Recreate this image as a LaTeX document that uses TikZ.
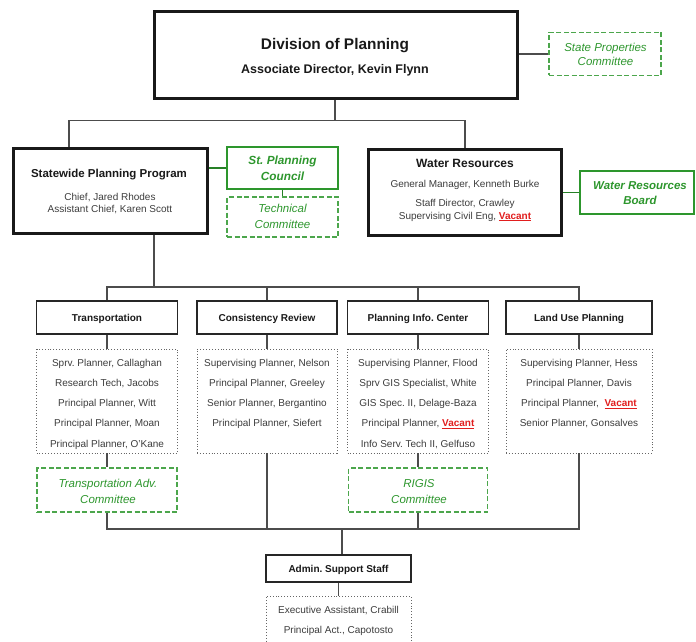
\documentclass[tikz,border=0pt]{standalone}
\usepackage{fontspec}
\setmainfont{Liberation Sans}
\frenchspacing
\definecolor{grn}{RGB}{45,150,45}
\definecolor{stafftxt}{RGB}{60,60,60}
\definecolor{vac}{RGB}{225,30,30}
\newcommand{\vacant}{{\color{vac}\bfseries\underline{Vacant}}}
\begin{document}
\begin{tikzpicture}[x=1pt,y=-1pt,
  bigbox/.style={draw=black!90, line width=3pt, inner sep=0pt},
  deptbox/.style={draw=black!85, line width=1.6pt, inner sep=0pt},
  staffbox/.style={draw=black!60, dotted, line width=0.9pt, inner sep=0pt},
  gsolid/.style={draw=grn, line width=1.3pt, inner sep=0pt},
  gdash/.style={draw=grn!85, line width=1.3pt, dash pattern=on 5pt off 2.5pt, inner sep=0pt},
  conn/.style={draw=black!70, line width=1.3pt},
  gconn/.style={draw=grn!85!black, line width=1.3pt},
  lbl/.style={anchor=base, inner sep=0pt, text=black!90},
  ttl/.style={lbl, font=\bfseries\fontsize{15.4}{18}\selectfont},
  sub/.style={lbl, font=\bfseries\fontsize{12.5}{15}\selectfont},
  hdr/.style={lbl, font=\bfseries\fontsize{12}{14}\selectfont},
  dhdr/.style={lbl, font=\bfseries\fontsize{10}{12}\selectfont},
  stf/.style={lbl, text=stafftxt, font=\fontsize{10}{12}\selectfont},
  gital/.style={lbl, text=grn, font=\itshape\fontsize{11.5}{14}\selectfont},
  gbital/.style={lbl, text=grn, font=\bfseries\itshape\fontsize{11.8}{14}\selectfont}
]
\clip (0,0) rectangle (696,642);
\useasboundingbox (0,0) rectangle (696,642);

% ---- boxes ----
\node[bigbox, minimum width=363pt, minimum height=87pt] (div) at (336,55) {};
\node[gdash, minimum width=112pt, minimum height=43pt] (spc) at (605,54) {};
\node[bigbox, minimum width=194pt, minimum height=85pt] (swp) at (110,190.5) {};
\node[gsolid, minimum width=111pt, minimum height=42pt] (spcl) at (282.5,168) {};
\node[gdash, minimum width=111pt, minimum height=40pt] (tech) at (282.5,217) {};
\node[bigbox, minimum width=193pt, minimum height=86pt] (wr) at (465,192.5) {};
\node[gsolid, minimum width=114pt, minimum height=43pt] (wrb) at (637,192.5) {};

\node[deptbox, minimum width=141pt, minimum height=33pt] (tr) at (107,317.5) {};
\node[deptbox, minimum width=140pt, minimum height=33pt] (cr) at (267,317.5) {};
\node[deptbox, minimum width=141pt, minimum height=33pt] (pic) at (418,317.5) {};
\node[deptbox, minimum width=146pt, minimum height=33pt] (lu) at (579,317.5) {};

\node[staffbox, minimum width=141pt, minimum height=104pt] (trs) at (107,401) {};
\node[staffbox, minimum width=140pt, minimum height=104pt] (crs) at (267,401) {};
\node[staffbox, minimum width=141pt, minimum height=104pt] (pics) at (418,401) {};
\node[staffbox, minimum width=146pt, minimum height=104pt] (lus) at (579,401) {};

\node[gdash, minimum width=140pt, minimum height=44pt] (tac) at (107,490) {};
\node[gdash, minimum width=139pt, minimum height=44pt] (rig) at (418,490) {};

\node[deptbox, minimum width=145pt, minimum height=27pt] (adm) at (338.5,568.5) {};
\node[staffbox, minimum width=145pt, minimum height=80pt] (adms) at (338.5,636) {};

% ---- bus coordinates ----
\coordinate (topbus) at (335,120.5);
\coordinate (depbus) at (154,287);
\coordinate (botbus) at (342,529);

% ---- connectors ----
\draw[conn] (div.east |- spc.west) -- (spc.west);
\draw[conn] (div.south -| topbus) -- (topbus);
\draw[conn] (swp.north -| 69,0) |- (topbus) -| (wr.north);
\draw[gconn] (swp.east |- spcl.west) -- (spcl.west);
\draw[gconn] (spcl.south) -- (tech.north);
\draw[gconn] (wr.east |- wrb.west) -- (wrb.west);
\draw[conn] (swp.south -| depbus) -- (depbus);
\draw[conn] (tr.north) |- (depbus) -| (lu.north);
\draw[conn] (cr.north) -- (cr.north |- depbus);
\draw[conn] (pic.north) -- (pic.north |- depbus);
\draw[conn] (tr.south) -- (trs.north);
\draw[conn] (cr.south) -- (crs.north);
\draw[conn] (pic.south) -- (pics.north);
\draw[conn] (lu.south) -- (lus.north);
\draw[conn] (trs.south) -- (tac.north);
\draw[conn] (pics.south) -- (rig.north);
\draw[conn] (tac.south) |- (botbus) -| (lus.south);
\draw[conn] (crs.south) -- (crs.south |- botbus);
\draw[conn] (rig.south) -- (rig.south |- botbus);
\draw[conn] (botbus) -- (adm.north -| botbus);
\draw[conn] (adm.south) -- (adms.north);

% ---- texts ----
\node[ttl] (divt) at (335,49) {Division of Planning};
\node[sub] (divs) at (335,74) {Associate Director, Kevin Flynn};
\node[gital] (spct1) at (605.5,52) {State Properties};
\node[gital] (spct2) at (605.5,66) {Committee};

\node[lbl, font=\bfseries\fontsize{11.5}{14}\selectfont] (swpt) at (109,177) {Statewide Planning Program};
\node[stf] (swp1) at (110,200) {Chief, Jared Rhodes};
\node[stf] (swp2) at (110,212) {Assistant Chief, Karen Scott};

\node[gbital] (spcl1) at (282.5,164) {St. Planning};
\node[gbital] (spcl2) at (282.5,180) {Council};
\node[gital] (tech1) at (282.5,212) {Technical};
\node[gital] (tech2) at (282.5,228) {Committee};

\node[hdr] (wrt) at (465,167) {Water Resources};
\node[stf] (wr1) at (465,187) {General Manager, Kenneth Burke};
\node[stf] (wr2) at (465,206) {Staff Director, Crawley};
\node[stf] (wr3) at (465,219) {Supervising Civil Eng, \vacant};

\node[gbital, font=\bfseries\itshape\fontsize{11.5}{14}\selectfont] (wrb1) at (640,189) {Water Resources};
\node[gbital, font=\bfseries\itshape\fontsize{11.5}{14}\selectfont] (wrb2) at (640,204) {Board};

\node[dhdr] (trt) at (107,321) {Transportation};
\node[dhdr] (crt) at (267,321) {Consistency Review};
\node[dhdr] (pict) at (418,321) {Planning Info. Center};
\node[dhdr] (lut) at (579,321) {Land Use Planning};

\foreach \t [count=\i from 0] in {{Sprv. Planner, Callaghan},{Research Tech, Jacobs},{Principal Planner, Witt},{Principal Planner, Moan},{Principal Planner, O'Kane}}
  \node[stf] (trs\i) at (107,{366+20.3*\i}) {\t};
\foreach \t [count=\i from 0] in {{Supervising Planner, Nelson},{Principal Planner, Greeley},{Senior Planner, Bergantino},{Principal Planner, Siefert}}
  \node[stf] (crs\i) at (267,{366+20.3*\i}) {\t};
\foreach \t [count=\i from 0] in {{Supervising Planner, Flood},{Sprv GIS Specialist, White},{GIS Spec. II, Delage-Baza},{Principal Planner, \vacant},{Info Serv. Tech II, Gelfuso}}
  \node[stf] (pics\i) at (418,{366+20.3*\i}) {\t};
\foreach \t [count=\i from 0] in {{Supervising Planner, Hess},{Principal Planner, Davis},{Principal Planner,\ \ \vacant},{Senior Planner, Gonsalves}}
  \node[stf] (lus\i) at (579,{366+20.3*\i}) {\t};

\node[gital] (tac1) at (108,487) {Transportation Adv.};
\node[gital] (tac2) at (108,503) {Committee};
\node[gital] (rig1) at (419,487) {RIGIS};
\node[gital] (rig2) at (419,503) {Committee};

\node[dhdr] (admt) at (338.5,572) {Admin. Support Staff};
\node[stf] (adm1) at (338.5,613) {Executive Assistant, Crabill};
\node[stf] (adm2) at (338.5,633) {Principal Act., Capotosto};
\end{tikzpicture}
\end{document}
